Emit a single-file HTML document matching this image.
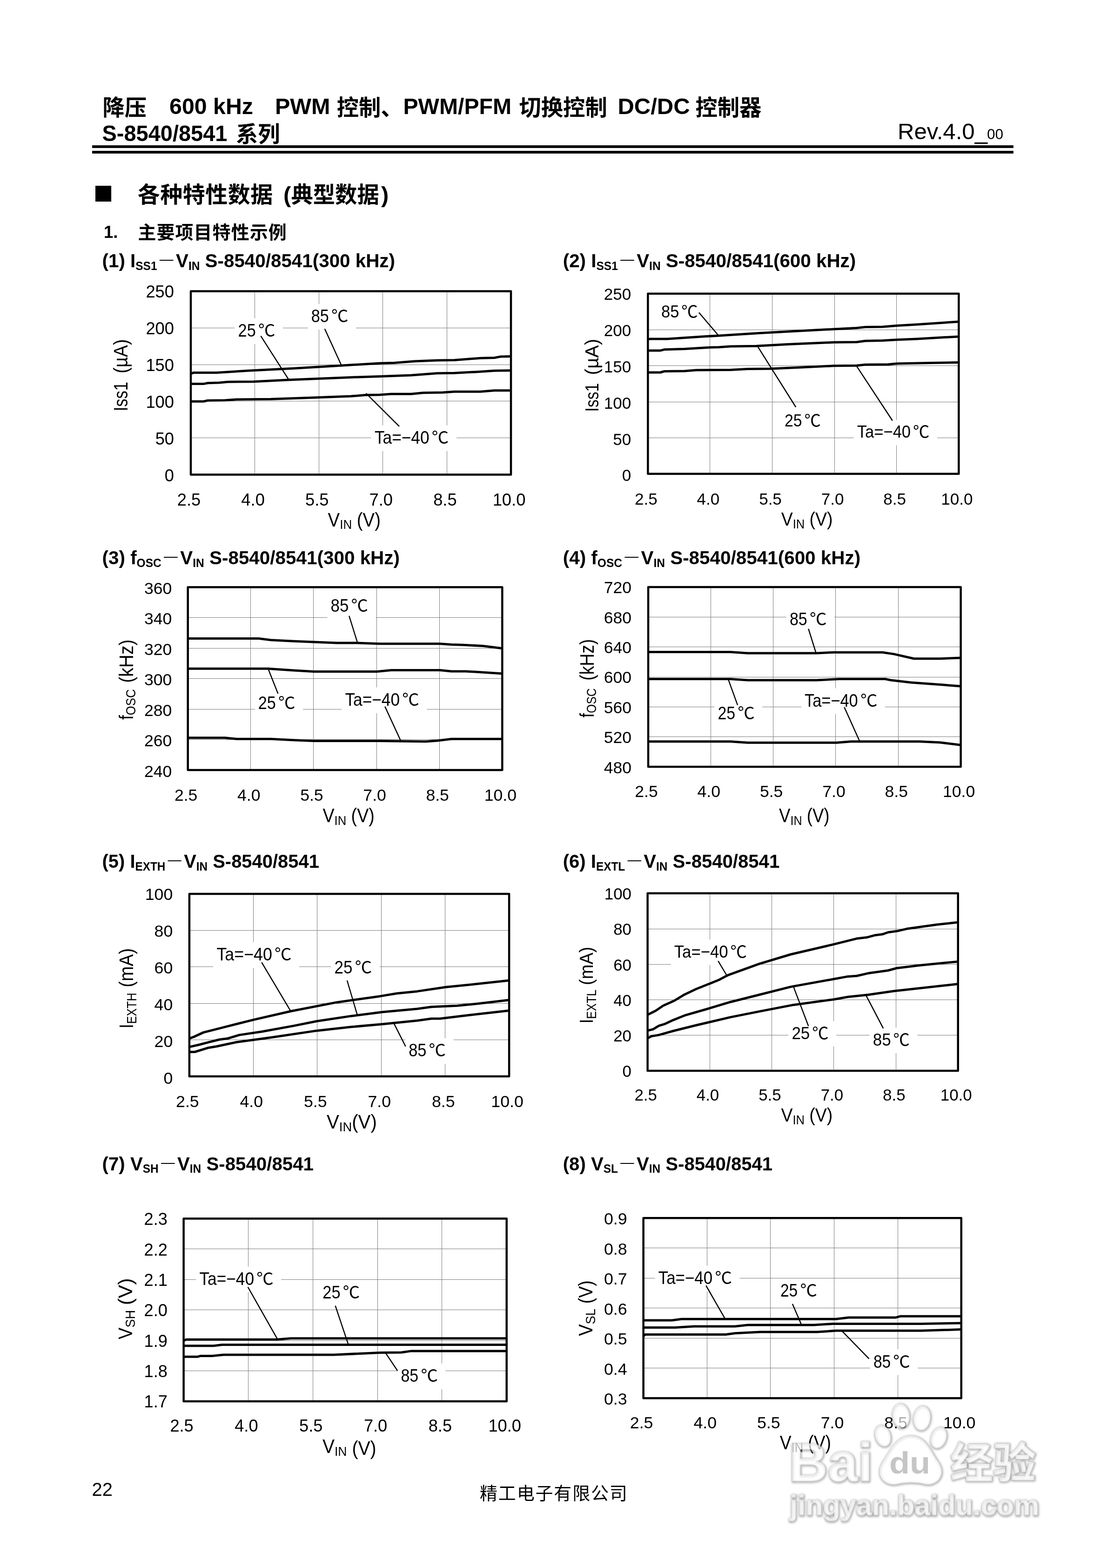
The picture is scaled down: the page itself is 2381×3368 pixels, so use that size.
<!DOCTYPE html>
<html lang="zh"><head><meta charset="utf-8"><title>S-8540/8541</title>
<style>
html,body{margin:0;padding:0;background:#fff}
svg{display:block}
text{font-family:"Liberation Sans", "Noto Sans CJK SC", sans-serif;fill:#000}
.wmg text{fill:none}
.wmw text{fill:#fff}
.wmd{fill:#bbb}
.g line{stroke:#7c7c7c;stroke-width:1;shape-rendering:crispEdges}
.c{font-family:"Liberation Sans","Noto Sans CJK SC",sans-serif;font-weight:400}
.d{font-family:"Liberation Sans","Noto Sans CJK SC",sans-serif;font-weight:200}
.k{font-family:"Liberation Sans","Noto Sans CJK SC",sans-serif;font-weight:700}
.sq{font-family:"Noto Sans CJK SC","Liberation Sans",sans-serif;font-weight:400}
.k3{font-family:"Liberation Sans","Noto Sans CJK SC",sans-serif;font-weight:400}
.k2{font-family:"Liberation Sans","Noto Sans CJK SC",sans-serif;font-weight:500}
</style></head><body>
<svg width="2381" height="3368" viewBox="0 0 2381 3368">
<defs><filter id="wg" x="-5%" y="-10%" width="110%" height="120%"><feGaussianBlur stdDeviation="2"/></filter><clipPath id="cp1"><rect x="410.0" y="625.5" width="688.0" height="394.0"/></clipPath><clipPath id="cp2"><rect x="1392.3" y="630.8" width="668.0" height="387.0"/></clipPath><clipPath id="cp3"><rect x="403.7" y="1261.3" width="675.6" height="392.6"/></clipPath><clipPath id="cp4"><rect x="1393.0" y="1261.0" width="671.6" height="386.0"/></clipPath><clipPath id="cp5"><rect x="406.9" y="1919.9" width="687.2" height="392.2"/></clipPath><clipPath id="cp6"><rect x="1391.6" y="1918.8" width="667.1" height="381.3"/></clipPath><clipPath id="cp7"><rect x="394.6" y="2617.5" width="694.1" height="392.6"/></clipPath><clipPath id="cp8"><rect x="1382.6" y="2616.2" width="683.1" height="387.1"/></clipPath></defs>
<rect width="2381" height="3368" fill="#fff"/>
<text x="220.5" y="247.9" font-size="47.3" font-weight="bold" textLength="94.6" lengthAdjust="spacing" class="k">降压</text>
<text x="364.0" y="245.2" font-size="49.0" font-weight="bold" textLength="180.0" lengthAdjust="spacingAndGlyphs">600 kHz</text>
<text x="591.0" y="245.2" font-size="49.0" font-weight="bold" textLength="118.5" lengthAdjust="spacingAndGlyphs">PWM</text>
<text x="723.7" y="247.9" font-size="47.3" font-weight="bold" textLength="141.9" lengthAdjust="spacing" class="k">控制、</text>
<text x="866.5" y="245.2" font-size="49.0" font-weight="bold" textLength="232.5" lengthAdjust="spacingAndGlyphs">PWM/PFM</text>
<text x="1115.5" y="247.9" font-size="47.3" font-weight="bold" textLength="189.2" lengthAdjust="spacing" class="k">切换控制</text>
<text x="1327.5" y="245.2" font-size="49.0" font-weight="bold" textLength="155.0" lengthAdjust="spacingAndGlyphs">DC/DC</text>
<text x="1494.5" y="247.9" font-size="47.3" font-weight="bold" textLength="141.9" lengthAdjust="spacing" class="k">控制器</text>
<text x="219.5" y="302.9" font-size="49.0" font-weight="bold" textLength="269.0" lengthAdjust="spacingAndGlyphs">S-8540/8541</text>
<text x="507.0" y="305.4" font-size="47.3" font-weight="bold" textLength="94.6" lengthAdjust="spacing" class="k">系列</text>
<text x="1929" y="299" font-size="49" textLength="193" lengthAdjust="spacingAndGlyphs">Rev.4.0_</text>
<text x="2121" y="299" font-size="30.7" textLength="35" lengthAdjust="spacingAndGlyphs">00</text>
<rect x="198" y="312.1" width="1979.8" height="5.8" fill="#000"/>
<rect x="198" y="324" width="1979.8" height="5.8" fill="#000"/>
<text x="200.7" y="432.2" font-size="42.6" class="sq">■</text>
<text x="295.8" y="434.5" font-size="48" font-weight="bold" textLength="290.4" lengthAdjust="spacing" class="k">各种特性数据</text>
<text x="609.0" y="434.5" font-size="49.0" font-weight="bold">(</text>
<text x="625.5" y="434.5" font-size="47.3" font-weight="bold" textLength="189.2" lengthAdjust="spacing" class="k">典型数据</text>
<text x="819.0" y="434.5" font-size="49.0" font-weight="bold">)</text>
<text x="223.0" y="510.9" font-size="36.5" font-weight="bold">1.</text>
<text x="296.5" y="512.5" font-size="39" font-weight="bold" textLength="319.2" lengthAdjust="spacing" class="k">主要项目特性示例</text>
<g class="g">
<line x1="547.5" y1="625.5" x2="547.5" y2="1019.5"/>
<line x1="685.5" y1="625.5" x2="685.5" y2="1019.5"/>
<line x1="822.5" y1="625.5" x2="822.5" y2="1019.5"/>
<line x1="960.5" y1="625.5" x2="960.5" y2="1019.5"/>
<line x1="410.0" y1="704.5" x2="1098.0" y2="704.5"/>
<line x1="410.0" y1="783.5" x2="1098.0" y2="783.5"/>
<line x1="410.0" y1="861.5" x2="1098.0" y2="861.5"/>
<line x1="410.0" y1="940.5" x2="1098.0" y2="940.5"/>
</g>
<rect x="661.5" y="652.9" width="103.5" height="55.2" fill="#fff"/>
<rect x="504.4" y="683.7" width="103.6" height="55.2" fill="#fff"/>
<rect x="797.7" y="913.6" width="183.1" height="55.2" fill="#fff"/>
<g clip-path="url(#cp1)">
<polyline points="401.5,803.0 409.5,803.0 415.7,800.6 464.9,800.6 532.7,796.3 631.3,791.3 723.7,785.8 816.1,780.2 847.0,779.6 890.1,775.9 939.4,774.1 976.3,773.5 1031.8,769.2 1062.6,768.5 1074.9,766.1 1097.7,765.5 1105.7,765.5" fill="none" stroke="#000" stroke-width="5" stroke-linejoin="round"/>
<polyline points="401.5,824.6 409.5,824.6 437.2,824.6 446.5,822.8 471.1,822.1 489.6,820.3 545.0,819.7 619.0,816.0 680.6,813.5 754.5,810.4 816.1,808.6 883.9,806.1 939.4,801.8 976.3,801.2 1025.6,798.7 1062.6,796.3 1097.7,795.7 1105.7,795.7" fill="none" stroke="#000" stroke-width="5" stroke-linejoin="round"/>
<polyline points="401.5,862.2 409.5,862.2 437.2,862.2 446.5,860.3 483.4,859.7 508.1,857.9 582.0,857.3 668.3,854.2 754.5,851.1 785.3,848.6 816.1,848.0 840.8,846.2 883.9,846.2 908.6,843.7 951.7,843.1 976.3,841.2 1031.8,841.2 1062.6,838.8 1097.7,838.8 1105.7,838.8" fill="none" stroke="#000" stroke-width="5" stroke-linejoin="round"/>
</g>
<rect x="410.0" y="625.5" width="688.0" height="394.0" fill="none" stroke="#000" stroke-width="4.5" stroke-linejoin="round"/>
<text x="668.7" y="692.1" font-size="38.2" textLength="38.1" lengthAdjust="spacingAndGlyphs">85</text>
<text x="712.0" y="692.1" font-size="36.5" class="c">℃</text>
<line x1="697.8" y1="706.3" x2="733.0" y2="783.3" stroke="#000" stroke-width="2.4"/>
<text x="511.6" y="722.9" font-size="38.2" textLength="38.2" lengthAdjust="spacingAndGlyphs">25</text>
<text x="555.0" y="722.9" font-size="36.5" class="c">℃</text>
<line x1="560.4" y1="721.7" x2="620.8" y2="816.0" stroke="#000" stroke-width="2.4"/>
<text x="804.9" y="952.8" font-size="38.2" textLength="117.7" lengthAdjust="spacingAndGlyphs">Ta=−40</text>
<text x="927.8" y="952.8" font-size="36.5" class="c">℃</text>
<line x1="786.6" y1="844.9" x2="858.0" y2="915.8" stroke="#000" stroke-width="2.4"/>
<text x="374.0" y="639.4" font-size="36.3" text-anchor="end">250</text>
<text x="374.0" y="718.2" font-size="36.3" text-anchor="end">200</text>
<text x="374.0" y="797.1" font-size="36.3" text-anchor="end">150</text>
<text x="374.0" y="875.9" font-size="36.3" text-anchor="end">100</text>
<text x="374.0" y="954.8" font-size="36.3" text-anchor="end">50</text>
<text x="374.0" y="1033.6" font-size="36.3" text-anchor="end">0</text>
<text x="406.0" y="1086.3" font-size="36.3" text-anchor="middle">2.5</text>
<text x="543.6" y="1086.3" font-size="36.3" text-anchor="middle">4.0</text>
<text x="681.2" y="1086.3" font-size="36.3" text-anchor="middle">5.5</text>
<text x="818.8" y="1086.3" font-size="36.3" text-anchor="middle">7.0</text>
<text x="956.4" y="1086.3" font-size="36.3" text-anchor="middle">8.5</text>
<text x="1094.0" y="1086.3" font-size="36.3" text-anchor="middle">10.0</text>
<text x="704.6" y="1130.5" font-size="41.6" textLength="113.3" lengthAdjust="spacingAndGlyphs">V<tspan font-size="28.3" dy="5.6">IN</tspan><tspan dy="-5.6"> (V)</tspan></text>
<text transform="translate(274.0,883.2) rotate(-90)" font-size="41.6" textLength="63.2" lengthAdjust="spacingAndGlyphs">Iss1</text>
<text transform="translate(274.0,802.0) rotate(-90)" font-size="41.6" textLength="73.6" lengthAdjust="spacingAndGlyphs">(µA)</text>
<text x="219.5" y="574.0" font-size="41.2" font-weight="bold" textLength="629.5" lengthAdjust="spacingAndGlyphs">(1) I<tspan font-size="25" dy="5.7">SS1</tspan><tspan dy="-5.7" font-size="1">​</tspan><tspan class="d">－</tspan>V<tspan font-size="25" dy="5.7">IN</tspan><tspan dy="-5.7" font-size="1">​</tspan> S-8540/8541(300 kHz)</text>
<g class="g">
<line x1="1525.5" y1="630.8" x2="1525.5" y2="1017.8"/>
<line x1="1659.5" y1="630.8" x2="1659.5" y2="1017.8"/>
<line x1="1793.5" y1="630.8" x2="1793.5" y2="1017.8"/>
<line x1="1926.5" y1="630.8" x2="1926.5" y2="1017.8"/>
<line x1="1392.3" y1="708.5" x2="2060.3" y2="708.5"/>
<line x1="1392.3" y1="785.5" x2="2060.3" y2="785.5"/>
<line x1="1392.3" y1="863.5" x2="2060.3" y2="863.5"/>
<line x1="1392.3" y1="940.5" x2="2060.3" y2="940.5"/>
</g>
<rect x="1413.8" y="643.3" width="102.4" height="54.4" fill="#fff"/>
<rect x="1678.8" y="877.4" width="101.7" height="54.4" fill="#fff"/>
<rect x="1834.6" y="902.0" width="179.4" height="54.4" fill="#fff"/>
<g clip-path="url(#cp2)">
<polyline points="1384.2,729.1 1392.2,729.1 1397.2,727.9 1434.1,727.9 1471.1,725.4 1520.4,722.3 1545.0,721.1 1631.3,715.6 1723.7,710.6 1791.5,706.9 1840.8,704.5 1859.3,702.6 1896.2,702.0 1927.0,699.5 1970.2,697.1 2059.5,690.9 2067.5,690.9" fill="none" stroke="#000" stroke-width="5" stroke-linejoin="round"/>
<polyline points="1384.2,753.1 1392.2,753.1 1418.7,753.1 1428.0,750.7 1471.1,749.4 1520.4,746.4 1545.0,745.7 1569.7,743.9 1625.1,743.3 1692.9,739.6 1791.5,735.3 1840.8,734.7 1859.3,732.2 1896.2,731.6 1927.0,729.7 1970.2,727.9 2059.5,722.9 2067.5,722.9" fill="none" stroke="#000" stroke-width="5" stroke-linejoin="round"/>
<polyline points="1384.2,800.0 1392.2,800.0 1418.7,800.0 1428.0,797.5 1471.1,796.9 1495.7,795.0 1569.7,794.4 1606.7,792.6 1655.9,792.0 1723.7,788.9 1791.5,785.8 1840.8,785.2 1859.3,783.3 1908.6,782.7 1927.0,780.9 2001.0,779.6 2059.5,778.4 2067.5,778.4" fill="none" stroke="#000" stroke-width="5" stroke-linejoin="round"/>
</g>
<rect x="1392.3" y="630.8" width="668.0" height="387.0" fill="none" stroke="#000" stroke-width="4.5" stroke-linejoin="round"/>
<text x="1421.0" y="681.7" font-size="37.1" textLength="38.3" lengthAdjust="spacingAndGlyphs">85</text>
<text x="1464.2" y="681.7" font-size="35.4" class="c">℃</text>
<line x1="1501.9" y1="671.2" x2="1543.8" y2="720.5" stroke="#000" stroke-width="2.4"/>
<text x="1686.0" y="915.8" font-size="37.1" textLength="37.6" lengthAdjust="spacingAndGlyphs">25</text>
<text x="1728.5" y="915.8" font-size="35.4" class="c">℃</text>
<line x1="1626.4" y1="741.4" x2="1710.2" y2="874.5" stroke="#000" stroke-width="2.4"/>
<text x="1841.8" y="940.4" font-size="37.1" textLength="115.3" lengthAdjust="spacingAndGlyphs">Ta=−40</text>
<text x="1962.0" y="940.4" font-size="35.4" class="c">℃</text>
<line x1="1840.8" y1="786.4" x2="1917.8" y2="903.5" stroke="#000" stroke-width="2.4"/>
<text x="1356.2" y="644.3" font-size="35" text-anchor="end">250</text>
<text x="1356.2" y="722.1" font-size="35" text-anchor="end">200</text>
<text x="1356.2" y="799.9" font-size="35" text-anchor="end">150</text>
<text x="1356.2" y="877.7" font-size="35" text-anchor="end">100</text>
<text x="1356.2" y="955.5" font-size="35" text-anchor="end">50</text>
<text x="1356.2" y="1033.3" font-size="35" text-anchor="end">0</text>
<text x="1388.3" y="1083.7" font-size="35" text-anchor="middle">2.5</text>
<text x="1521.9" y="1083.7" font-size="35" text-anchor="middle">4.0</text>
<text x="1655.5" y="1083.7" font-size="35" text-anchor="middle">5.5</text>
<text x="1789.1" y="1083.7" font-size="35" text-anchor="middle">7.0</text>
<text x="1922.7" y="1083.7" font-size="35" text-anchor="middle">8.5</text>
<text x="2056.3" y="1083.7" font-size="35" text-anchor="middle">10.0</text>
<text x="1678.7" y="1129.0" font-size="40.4" textLength="110.8" lengthAdjust="spacingAndGlyphs">V<tspan font-size="27.5" dy="5.6">IN</tspan><tspan dy="-5.6"> (V)</tspan></text>
<text transform="translate(1286.1,884.4) rotate(-90)" font-size="40.4" textLength="61.5" lengthAdjust="spacingAndGlyphs">Iss1</text>
<text transform="translate(1286.1,805.4) rotate(-90)" font-size="40.4" textLength="77.6" lengthAdjust="spacingAndGlyphs">(µA)</text>
<text x="1209.7" y="574.0" font-size="41.2" font-weight="bold" textLength="629.5" lengthAdjust="spacingAndGlyphs">(2) I<tspan font-size="25" dy="5.7">SS1</tspan><tspan dy="-5.7" font-size="1">​</tspan><tspan class="d">－</tspan>V<tspan font-size="25" dy="5.7">IN</tspan><tspan dy="-5.7" font-size="1">​</tspan> S-8540/8541(600 kHz)</text>
<g class="g">
<line x1="538.5" y1="1261.3" x2="538.5" y2="1653.9"/>
<line x1="673.5" y1="1261.3" x2="673.5" y2="1653.9"/>
<line x1="809.5" y1="1261.3" x2="809.5" y2="1653.9"/>
<line x1="944.5" y1="1261.3" x2="944.5" y2="1653.9"/>
<line x1="403.7" y1="1326.5" x2="1079.3" y2="1326.5"/>
<line x1="403.7" y1="1392.5" x2="1079.3" y2="1392.5"/>
<line x1="403.7" y1="1457.5" x2="1079.3" y2="1457.5"/>
<line x1="403.7" y1="1523.5" x2="1079.3" y2="1523.5"/>
<line x1="403.7" y1="1588.5" x2="1079.3" y2="1588.5"/>
</g>
<rect x="703.4" y="1275.1" width="104.2" height="55.2" fill="#fff"/>
<rect x="547.5" y="1484.0" width="103.5" height="55.2" fill="#fff"/>
<rect x="734.2" y="1476.6" width="183.1" height="55.2" fill="#fff"/>
<g clip-path="url(#cp3)">
<polyline points="395.3,1371.6 403.3,1371.6 556.1,1371.6 582.0,1374.7 631.3,1377.2 723.7,1380.9 766.9,1380.9 816.1,1382.7 945.5,1382.7 970.2,1384.6 994.8,1385.2 1038.0,1387.6 1078.0,1392.6 1086.0,1392.6" fill="none" stroke="#000" stroke-width="5" stroke-linejoin="round"/>
<polyline points="395.3,1436.3 403.3,1436.3 575.8,1436.3 631.3,1440.0 674.4,1442.5 810.0,1442.5 840.8,1439.4 945.5,1439.4 970.2,1441.9 1001.0,1441.9 1078.0,1446.8 1086.0,1446.8" fill="none" stroke="#000" stroke-width="5" stroke-linejoin="round"/>
<polyline points="395.3,1584.8 403.3,1584.8 483.4,1584.8 508.1,1587.3 582.0,1587.3 631.3,1589.7 674.4,1591.6 816.1,1591.6 914.7,1592.8 939.4,1591.0 970.2,1587.3 1078.0,1587.3 1086.0,1587.3" fill="none" stroke="#000" stroke-width="5" stroke-linejoin="round"/>
</g>
<rect x="403.7" y="1261.3" width="675.6" height="392.6" fill="none" stroke="#000" stroke-width="4.5" stroke-linejoin="round"/>
<text x="710.6" y="1314.3" font-size="38.2" textLength="38.8" lengthAdjust="spacingAndGlyphs">85</text>
<text x="754.6" y="1314.3" font-size="36.5" class="c">℃</text>
<line x1="750.2" y1="1322.9" x2="768.1" y2="1380.2" stroke="#000" stroke-width="2.4"/>
<text x="554.7" y="1523.2" font-size="38.2" textLength="38.1" lengthAdjust="spacingAndGlyphs">25</text>
<text x="598.0" y="1523.2" font-size="36.5" class="c">℃</text>
<line x1="577.1" y1="1438.8" x2="597.4" y2="1489.9" stroke="#000" stroke-width="2.4"/>
<text x="741.4" y="1515.8" font-size="38.2" textLength="117.7" lengthAdjust="spacingAndGlyphs">Ta=−40</text>
<text x="864.3" y="1515.8" font-size="36.5" class="c">℃</text>
<line x1="827.2" y1="1517.6" x2="860.5" y2="1589.7" stroke="#000" stroke-width="2.4"/>
<text x="369.3" y="1275.5" font-size="35.6" text-anchor="end">360</text>
<text x="369.3" y="1341.0" font-size="35.6" text-anchor="end">340</text>
<text x="369.3" y="1406.5" font-size="35.6" text-anchor="end">320</text>
<text x="369.3" y="1472.0" font-size="35.6" text-anchor="end">300</text>
<text x="369.3" y="1537.5" font-size="35.6" text-anchor="end">280</text>
<text x="369.3" y="1603.0" font-size="35.6" text-anchor="end">260</text>
<text x="369.3" y="1668.5" font-size="35.6" text-anchor="end">240</text>
<text x="399.7" y="1719.8" font-size="35.6" text-anchor="middle">2.5</text>
<text x="534.8" y="1719.8" font-size="35.6" text-anchor="middle">4.0</text>
<text x="669.9" y="1719.8" font-size="35.6" text-anchor="middle">5.5</text>
<text x="805.1" y="1719.8" font-size="35.6" text-anchor="middle">7.0</text>
<text x="940.2" y="1719.8" font-size="35.6" text-anchor="middle">8.5</text>
<text x="1075.3" y="1719.8" font-size="35.6" text-anchor="middle">10.0</text>
<text x="693.4" y="1765.9" font-size="41.6" textLength="111.4" lengthAdjust="spacingAndGlyphs">V<tspan font-size="28.3" dy="5.6">IN</tspan><tspan dy="-5.6"> (V)</tspan></text>
<text transform="translate(286.1,1546.1) rotate(-90)" font-size="41.6" textLength="65.8" lengthAdjust="spacingAndGlyphs">f<tspan font-size="30" dy="5.3">OSC</tspan></text>
<text transform="translate(286.1,1466.7) rotate(-90)" font-size="41.6" textLength="93.2" lengthAdjust="spacingAndGlyphs">(kHz)</text>
<text x="219.5" y="1211.9" font-size="41.2" font-weight="bold" textLength="639.5" lengthAdjust="spacingAndGlyphs">(3) f<tspan font-size="25" dy="5.7">OSC</tspan><tspan dy="-5.7" font-size="1">​</tspan><tspan class="d">－</tspan>V<tspan font-size="25" dy="5.7">IN</tspan><tspan dy="-5.7" font-size="1">​</tspan> S-8540/8541(300 kHz)</text>
<g class="g">
<line x1="1527.5" y1="1261.0" x2="1527.5" y2="1647.0"/>
<line x1="1661.5" y1="1261.0" x2="1661.5" y2="1647.0"/>
<line x1="1795.5" y1="1261.0" x2="1795.5" y2="1647.0"/>
<line x1="1930.5" y1="1261.0" x2="1930.5" y2="1647.0"/>
<line x1="1393.0" y1="1325.5" x2="2064.6" y2="1325.5"/>
<line x1="1393.0" y1="1389.5" x2="2064.6" y2="1389.5"/>
<line x1="1393.0" y1="1454.5" x2="2064.6" y2="1454.5"/>
<line x1="1393.0" y1="1518.5" x2="2064.6" y2="1518.5"/>
<line x1="1393.0" y1="1582.5" x2="2064.6" y2="1582.5"/>
</g>
<rect x="1689.8" y="1304.1" width="103.1" height="55.2" fill="#fff"/>
<rect x="1535.2" y="1505.6" width="103.0" height="55.2" fill="#fff"/>
<rect x="1721.9" y="1478.4" width="180.0" height="55.2" fill="#fff"/>
<g clip-path="url(#cp4)">
<polyline points="1384.9,1400.6 1392.9,1400.6 1569.7,1400.6 1606.7,1403.0 1754.5,1403.0 1791.5,1401.2 1896.2,1401.2 1920.9,1404.9 1964.0,1414.8 2019.5,1414.8 2064.4,1412.9 2072.4,1412.9" fill="none" stroke="#000" stroke-width="5" stroke-linejoin="round"/>
<polyline points="1384.9,1458.5 1392.9,1458.5 1569.7,1458.5 1606.7,1461.0 1754.5,1461.0 1803.8,1458.5 1902.4,1458.5 1914.7,1461.0 1957.9,1465.9 2064.4,1473.9 2072.4,1473.9" fill="none" stroke="#000" stroke-width="5" stroke-linejoin="round"/>
<polyline points="1384.9,1592.8 1392.9,1592.8 1569.7,1592.8 1606.7,1595.3 1797.7,1595.3 1828.5,1592.8 1976.3,1592.8 2019.5,1594.7 2064.4,1600.2 2072.4,1600.2" fill="none" stroke="#000" stroke-width="5" stroke-linejoin="round"/>
</g>
<rect x="1393.0" y="1261.0" width="671.6" height="386.0" fill="none" stroke="#000" stroke-width="4.5" stroke-linejoin="round"/>
<text x="1697.0" y="1343.3" font-size="38.2" textLength="37.7" lengthAdjust="spacingAndGlyphs">85</text>
<text x="1739.9" y="1343.3" font-size="36.5" class="c">℃</text>
<line x1="1737.3" y1="1350.7" x2="1753.3" y2="1401.8" stroke="#000" stroke-width="2.4"/>
<text x="1542.4" y="1544.8" font-size="38.2" textLength="37.6" lengthAdjust="spacingAndGlyphs">25</text>
<text x="1585.2" y="1544.8" font-size="36.5" class="c">℃</text>
<line x1="1565.4" y1="1460.3" x2="1585.1" y2="1514.6" stroke="#000" stroke-width="2.4"/>
<text x="1729.1" y="1517.6" font-size="38.2" textLength="114.6" lengthAdjust="spacingAndGlyphs">Ta=−40</text>
<text x="1848.9" y="1517.6" font-size="36.5" class="c">℃</text>
<line x1="1814.3" y1="1518.9" x2="1847.0" y2="1591.6" stroke="#000" stroke-width="2.4"/>
<text x="1356.9" y="1274.1" font-size="35.5" text-anchor="end">720</text>
<text x="1356.9" y="1338.5" font-size="35.5" text-anchor="end">680</text>
<text x="1356.9" y="1403.0" font-size="35.5" text-anchor="end">640</text>
<text x="1356.9" y="1467.4" font-size="35.5" text-anchor="end">600</text>
<text x="1356.9" y="1531.9" font-size="35.5" text-anchor="end">560</text>
<text x="1356.9" y="1596.3" font-size="35.5" text-anchor="end">520</text>
<text x="1356.9" y="1660.8" font-size="35.5" text-anchor="end">480</text>
<text x="1389.0" y="1711.9" font-size="35.5" text-anchor="middle">2.5</text>
<text x="1523.3" y="1711.9" font-size="35.5" text-anchor="middle">4.0</text>
<text x="1657.6" y="1711.9" font-size="35.5" text-anchor="middle">5.5</text>
<text x="1792.0" y="1711.9" font-size="35.5" text-anchor="middle">7.0</text>
<text x="1926.3" y="1711.9" font-size="35.5" text-anchor="middle">8.5</text>
<text x="2060.6" y="1711.9" font-size="35.5" text-anchor="middle">10.0</text>
<text x="1674.1" y="1766.1" font-size="41.6" textLength="108.5" lengthAdjust="spacingAndGlyphs">V<tspan font-size="28.3" dy="5.6">IN</tspan><tspan dy="-5.6"> (V)</tspan></text>
<text transform="translate(1275.5,1541.2) rotate(-90)" font-size="41.6" textLength="62.8" lengthAdjust="spacingAndGlyphs">f<tspan font-size="30" dy="5.3">OSC</tspan></text>
<text transform="translate(1275.5,1461.8) rotate(-90)" font-size="41.6" textLength="89.3" lengthAdjust="spacingAndGlyphs">(kHz)</text>
<text x="1209.7" y="1211.9" font-size="41.2" font-weight="bold" textLength="639.5" lengthAdjust="spacingAndGlyphs">(4) f<tspan font-size="25" dy="5.7">OSC</tspan><tspan dy="-5.7" font-size="1">​</tspan><tspan class="d">－</tspan>V<tspan font-size="25" dy="5.7">IN</tspan><tspan dy="-5.7" font-size="1">​</tspan> S-8540/8541(600 kHz)</text>
<g class="g">
<line x1="544.5" y1="1919.9" x2="544.5" y2="2312.1"/>
<line x1="681.5" y1="1919.9" x2="681.5" y2="2312.1"/>
<line x1="819.5" y1="1919.9" x2="819.5" y2="2312.1"/>
<line x1="956.5" y1="1919.9" x2="956.5" y2="2312.1"/>
<line x1="406.9" y1="1998.5" x2="1094.1" y2="1998.5"/>
<line x1="406.9" y1="2076.5" x2="1094.1" y2="2076.5"/>
<line x1="406.9" y1="2155.5" x2="1094.1" y2="2155.5"/>
<line x1="406.9" y1="2233.5" x2="1094.1" y2="2233.5"/>
</g>
<rect x="458.2" y="2023.7" width="184.9" height="55.2" fill="#fff"/>
<rect x="711.4" y="2051.4" width="104.3" height="55.2" fill="#fff"/>
<rect x="871.0" y="2230.1" width="103.6" height="55.2" fill="#fff"/>
<g clip-path="url(#cp5)">
<polyline points="397.8,2231.1 405.8,2231.1 415.7,2227.4 437.2,2217.6 483.4,2205.8 545.0,2190.4 625.1,2172.0 723.7,2152.9 816.1,2139.9 853.1,2133.8 896.2,2129.4 957.9,2120.2 1019.5,2114.0 1093.4,2106.0 1101.4,2106.0" fill="none" stroke="#000" stroke-width="5" stroke-linejoin="round"/>
<polyline points="397.8,2249.0 405.8,2249.0 428.0,2244.0 446.5,2239.1 471.1,2233.0 489.6,2230.5 514.2,2223.1 563.5,2215.7 631.3,2203.4 680.6,2193.5 754.5,2182.4 822.3,2173.8 896.2,2167.0 927.0,2162.7 982.5,2160.3 1031.8,2155.3 1093.4,2147.9 1101.4,2147.9" fill="none" stroke="#000" stroke-width="5" stroke-linejoin="round"/>
<polyline points="397.8,2259.5 405.8,2259.5 418.7,2259.5 446.5,2250.8 464.9,2247.7 508.1,2238.5 582.0,2228.6 680.6,2213.9 754.5,2205.8 822.3,2199.7 896.2,2192.3 927.0,2188.0 945.5,2188.0 1001.0,2181.2 1093.4,2170.7 1101.4,2170.7" fill="none" stroke="#000" stroke-width="5" stroke-linejoin="round"/>
</g>
<rect x="406.9" y="1919.9" width="687.2" height="392.2" fill="none" stroke="#000" stroke-width="4.5" stroke-linejoin="round"/>
<text x="465.4" y="2062.9" font-size="38.2" textLength="119.5" lengthAdjust="spacingAndGlyphs">Ta=−40</text>
<text x="590.1" y="2062.9" font-size="36.5" class="c">℃</text>
<line x1="562.3" y1="2067.2" x2="623.9" y2="2170.7" stroke="#000" stroke-width="2.4"/>
<text x="718.6" y="2090.6" font-size="38.2" textLength="38.9" lengthAdjust="spacingAndGlyphs">25</text>
<text x="762.7" y="2090.6" font-size="36.5" class="c">℃</text>
<line x1="745.9" y1="2106.0" x2="768.1" y2="2181.2" stroke="#000" stroke-width="2.4"/>
<text x="878.2" y="2269.3" font-size="38.2" textLength="38.2" lengthAdjust="spacingAndGlyphs">85</text>
<text x="921.6" y="2269.3" font-size="36.5" class="c">℃</text>
<line x1="845.1" y1="2195.4" x2="871.6" y2="2247.7" stroke="#000" stroke-width="2.4"/>
<text x="371.3" y="1932.7" font-size="35.7" text-anchor="end">100</text>
<text x="371.3" y="2011.7" font-size="35.7" text-anchor="end">80</text>
<text x="371.3" y="2090.6" font-size="35.7" text-anchor="end">60</text>
<text x="371.3" y="2169.6" font-size="35.7" text-anchor="end">40</text>
<text x="371.3" y="2248.5" font-size="35.7" text-anchor="end">20</text>
<text x="371.3" y="2327.5" font-size="35.7" text-anchor="end">0</text>
<text x="402.9" y="2378.0" font-size="35.7" text-anchor="middle">2.5</text>
<text x="540.3" y="2378.0" font-size="35.7" text-anchor="middle">4.0</text>
<text x="677.8" y="2378.0" font-size="35.7" text-anchor="middle">5.5</text>
<text x="815.2" y="2378.0" font-size="35.7" text-anchor="middle">7.0</text>
<text x="952.7" y="2378.0" font-size="35.7" text-anchor="middle">8.5</text>
<text x="1090.1" y="2378.0" font-size="35.7" text-anchor="middle">10.0</text>
<text x="701.9" y="2424.4" font-size="41.6" textLength="108.0" lengthAdjust="spacingAndGlyphs">V<tspan font-size="28.3" dy="5.6">IN</tspan><tspan dy="-5.6">(V)</tspan></text>
<text transform="translate(286.1,2209.0) rotate(-90)" font-size="41.6" textLength="76.5" lengthAdjust="spacingAndGlyphs">I<tspan font-size="30" dy="6.8">EXTH</tspan></text>
<text transform="translate(286.1,2120.8) rotate(-90)" font-size="41.6" textLength="84.3" lengthAdjust="spacingAndGlyphs">(mA)</text>
<text x="219.5" y="1864.4" font-size="41.2" font-weight="bold" textLength="466.5" lengthAdjust="spacingAndGlyphs">(5) I<tspan font-size="25" dy="5.7">EXTH</tspan><tspan dy="-5.7" font-size="1">​</tspan><tspan class="d">－</tspan>V<tspan font-size="25" dy="5.7">IN</tspan><tspan dy="-5.7" font-size="1">​</tspan> S-8540/8541</text>
<g class="g">
<line x1="1525.5" y1="1918.8" x2="1525.5" y2="2300.1"/>
<line x1="1658.5" y1="1918.8" x2="1658.5" y2="2300.1"/>
<line x1="1791.5" y1="1918.8" x2="1791.5" y2="2300.1"/>
<line x1="1925.5" y1="1918.8" x2="1925.5" y2="2300.1"/>
<line x1="1391.6" y1="1995.5" x2="2058.7" y2="1995.5"/>
<line x1="1391.6" y1="2071.5" x2="2058.7" y2="2071.5"/>
<line x1="1391.6" y1="2147.5" x2="2058.7" y2="2147.5"/>
<line x1="1391.6" y1="2223.5" x2="2058.7" y2="2223.5"/>
</g>
<rect x="1441.5" y="2018.3" width="180.1" height="54.4" fill="#fff"/>
<rect x="1694.2" y="2193.3" width="103.0" height="54.4" fill="#fff"/>
<rect x="1868.5" y="2207.5" width="103.0" height="54.4" fill="#fff"/>
<g clip-path="url(#cp6)">
<polyline points="1383.0,2180.0 1391.0,2180.0 1409.5,2170.7 1424.9,2160.3 1449.5,2149.2 1471.1,2136.2 1495.7,2124.5 1545.0,2104.8 1563.5,2094.9 1631.3,2070.3 1699.1,2050.0 1791.5,2028.4 1840.8,2016.1 1862.4,2013.6 1880.8,2008.7 1896.2,2006.8 1908.6,2002.5 1927.0,2000.1 1948.6,1995.1 2013.3,1985.9 2059.5,1981.0 2067.5,1981.0" fill="none" stroke="#000" stroke-width="5" stroke-linejoin="round"/>
<polyline points="1383.0,2213.9 1391.0,2213.9 1403.3,2210.8 1415.7,2203.4 1428.0,2199.7 1446.5,2191.1 1471.1,2181.2 1520.4,2167.0 1569.7,2152.2 1631.3,2136.8 1699.1,2119.6 1791.5,2103.0 1822.3,2097.4 1840.8,2096.2 1865.4,2090.6 1908.6,2084.5 1927.0,2079.5 1976.3,2073.4 2059.5,2065.4 2067.5,2065.4" fill="none" stroke="#000" stroke-width="5" stroke-linejoin="round"/>
<polyline points="1383.0,2230.5 1391.0,2230.5 1400.2,2225.6 1415.7,2223.1 1446.5,2214.5 1495.7,2202.2 1569.7,2184.9 1631.3,2172.6 1705.2,2158.4 1791.5,2146.7 1822.3,2141.2 1865.4,2136.8 1920.9,2128.8 2059.5,2113.4 2067.5,2113.4" fill="none" stroke="#000" stroke-width="5" stroke-linejoin="round"/>
</g>
<rect x="1391.6" y="1918.8" width="667.1" height="381.3" fill="none" stroke="#000" stroke-width="4.5" stroke-linejoin="round"/>
<text x="1448.7" y="2056.7" font-size="37.1" textLength="116.0" lengthAdjust="spacingAndGlyphs">Ta=−40</text>
<text x="1569.6" y="2056.7" font-size="35.4" class="c">℃</text>
<line x1="1543.2" y1="2064.1" x2="1563.5" y2="2098.0" stroke="#000" stroke-width="2.4"/>
<text x="1701.4" y="2231.7" font-size="37.1" textLength="38.9" lengthAdjust="spacingAndGlyphs">25</text>
<text x="1745.2" y="2231.7" font-size="35.4" class="c">℃</text>
<line x1="1705.2" y1="2119.6" x2="1737.3" y2="2204.0" stroke="#000" stroke-width="2.4"/>
<text x="1875.7" y="2245.9" font-size="37.1" textLength="38.9" lengthAdjust="spacingAndGlyphs">85</text>
<text x="1919.5" y="2245.9" font-size="35.4" class="c">℃</text>
<line x1="1861.1" y1="2138.1" x2="1898.1" y2="2208.9" stroke="#000" stroke-width="2.4"/>
<text x="1356.9" y="1932.1" font-size="34.8" text-anchor="end">100</text>
<text x="1356.9" y="2008.4" font-size="34.8" text-anchor="end">80</text>
<text x="1356.9" y="2084.6" font-size="34.8" text-anchor="end">60</text>
<text x="1356.9" y="2160.9" font-size="34.8" text-anchor="end">40</text>
<text x="1356.9" y="2237.1" font-size="34.8" text-anchor="end">20</text>
<text x="1356.9" y="2313.4" font-size="34.8" text-anchor="end">0</text>
<text x="1387.6" y="2363.5" font-size="34.8" text-anchor="middle">2.5</text>
<text x="1521.0" y="2363.5" font-size="34.8" text-anchor="middle">4.0</text>
<text x="1654.4" y="2363.5" font-size="34.8" text-anchor="middle">5.5</text>
<text x="1787.9" y="2363.5" font-size="34.8" text-anchor="middle">7.0</text>
<text x="1921.3" y="2363.5" font-size="34.8" text-anchor="middle">8.5</text>
<text x="2054.7" y="2363.5" font-size="34.8" text-anchor="middle">10.0</text>
<text x="1678.4" y="2409.3" font-size="40.4" textLength="110.9" lengthAdjust="spacingAndGlyphs">V<tspan font-size="27.5" dy="5.6">IN</tspan><tspan dy="-5.6"> (V)</tspan></text>
<text transform="translate(1274.1,2198.3) rotate(-90)" font-size="40.4" textLength="72.7" lengthAdjust="spacingAndGlyphs">I<tspan font-size="30" dy="7.3">EXTL</tspan></text>
<text transform="translate(1274.1,2115.9) rotate(-90)" font-size="40.4" textLength="82.4" lengthAdjust="spacingAndGlyphs">(mA)</text>
<text x="1209.7" y="1864.4" font-size="41.2" font-weight="bold" textLength="465.5" lengthAdjust="spacingAndGlyphs">(6) I<tspan font-size="25" dy="5.7">EXTL</tspan><tspan dy="-5.7" font-size="1">​</tspan><tspan class="d">－</tspan>V<tspan font-size="25" dy="5.7">IN</tspan><tspan dy="-5.7" font-size="1">​</tspan> S-8540/8541</text>
<g class="g">
<line x1="533.5" y1="2617.5" x2="533.5" y2="3010.1"/>
<line x1="672.5" y1="2617.5" x2="672.5" y2="3010.1"/>
<line x1="811.5" y1="2617.5" x2="811.5" y2="3010.1"/>
<line x1="949.5" y1="2617.5" x2="949.5" y2="3010.1"/>
<line x1="394.6" y1="2682.5" x2="1088.7" y2="2682.5"/>
<line x1="394.6" y1="2748.5" x2="1088.7" y2="2748.5"/>
<line x1="394.6" y1="2813.5" x2="1088.7" y2="2813.5"/>
<line x1="394.6" y1="2879.5" x2="1088.7" y2="2879.5"/>
<line x1="394.6" y1="2944.5" x2="1088.7" y2="2944.5"/>
</g>
<rect x="421.2" y="2720.4" width="183.1" height="55.2" fill="#fff"/>
<rect x="686.1" y="2749.3" width="103.7" height="55.2" fill="#fff"/>
<rect x="854.3" y="2928.6" width="103.1" height="55.2" fill="#fff"/>
<g clip-path="url(#cp7)">
<polyline points="386.7,2879.7 394.7,2879.7 400.2,2877.3 594.3,2877.3 625.1,2874.8 1089.1,2874.8 1097.1,2874.8" fill="none" stroke="#000" stroke-width="5" stroke-linejoin="round"/>
<polyline points="386.7,2890.8 394.7,2890.8 458.8,2890.8 477.3,2888.4 1089.1,2888.4 1097.1,2888.4" fill="none" stroke="#000" stroke-width="5" stroke-linejoin="round"/>
<polyline points="386.7,2914.2 394.7,2914.2 424.9,2914.2 431.1,2912.4 455.7,2912.4 480.3,2909.9 717.6,2909.9 816.1,2905.6 862.4,2905.0 883.9,2901.9 1089.1,2901.9 1097.1,2901.9" fill="none" stroke="#000" stroke-width="5" stroke-linejoin="round"/>
</g>
<rect x="394.6" y="2617.5" width="694.1" height="392.6" fill="none" stroke="#000" stroke-width="4.5" stroke-linejoin="round"/>
<text x="428.4" y="2759.6" font-size="38.2" textLength="117.7" lengthAdjust="spacingAndGlyphs">Ta=−40</text>
<text x="551.3" y="2759.6" font-size="36.5" class="c">℃</text>
<line x1="532.7" y1="2764.5" x2="595.6" y2="2875.4" stroke="#000" stroke-width="2.4"/>
<text x="693.3" y="2788.5" font-size="38.2" textLength="38.3" lengthAdjust="spacingAndGlyphs">25</text>
<text x="736.8" y="2788.5" font-size="36.5" class="c">℃</text>
<line x1="720.6" y1="2804.6" x2="748.4" y2="2887.7" stroke="#000" stroke-width="2.4"/>
<text x="861.5" y="2967.8" font-size="38.2" textLength="37.7" lengthAdjust="spacingAndGlyphs">85</text>
<text x="904.4" y="2967.8" font-size="36.5" class="c">℃</text>
<line x1="826.6" y1="2903.1" x2="854.3" y2="2944.4" stroke="#000" stroke-width="2.4"/>
<text x="359.9" y="2631.2" font-size="36.2" text-anchor="end">2.3</text>
<text x="359.9" y="2696.5" font-size="36.2" text-anchor="end">2.2</text>
<text x="359.9" y="2761.9" font-size="36.2" text-anchor="end">2.1</text>
<text x="359.9" y="2827.2" font-size="36.2" text-anchor="end">2.0</text>
<text x="359.9" y="2892.5" font-size="36.2" text-anchor="end">1.9</text>
<text x="359.9" y="2957.8" font-size="36.2" text-anchor="end">1.8</text>
<text x="359.9" y="3023.2" font-size="36.2" text-anchor="end">1.7</text>
<text x="390.6" y="3075.2" font-size="36.2" text-anchor="middle">2.5</text>
<text x="529.4" y="3075.2" font-size="36.2" text-anchor="middle">4.0</text>
<text x="668.2" y="3075.2" font-size="36.2" text-anchor="middle">5.5</text>
<text x="807.1" y="3075.2" font-size="36.2" text-anchor="middle">7.0</text>
<text x="945.9" y="3075.2" font-size="36.2" text-anchor="middle">8.5</text>
<text x="1084.7" y="3075.2" font-size="36.2" text-anchor="middle">10.0</text>
<text x="692.9" y="3121.3" font-size="41.6" textLength="115.6" lengthAdjust="spacingAndGlyphs">V<tspan font-size="28.3" dy="5.6">IN</tspan><tspan dy="-1.9"> (V)</tspan></text>
<text transform="translate(283.9,2876.7) rotate(-90)" font-size="41.6" textLength="62.8" lengthAdjust="spacingAndGlyphs">V<tspan font-size="30" dy="5.9">SH</tspan></text>
<text transform="translate(283.9,2803.2) rotate(-90)" font-size="41.6" textLength="57.9" lengthAdjust="spacingAndGlyphs">(V)</text>
<text x="219.5" y="2513.6" font-size="41.2" font-weight="bold" textLength="454.5" lengthAdjust="spacingAndGlyphs">(7) V<tspan font-size="25" dy="5.7">SH</tspan><tspan dy="-5.7" font-size="1">​</tspan><tspan class="d">－</tspan>V<tspan font-size="25" dy="5.7">IN</tspan><tspan dy="-5.7" font-size="1">​</tspan> S-8540/8541</text>
<g class="g">
<line x1="1519.5" y1="2616.2" x2="1519.5" y2="3003.3"/>
<line x1="1655.5" y1="2616.2" x2="1655.5" y2="3003.3"/>
<line x1="1792.5" y1="2616.2" x2="1792.5" y2="3003.3"/>
<line x1="1929.5" y1="2616.2" x2="1929.5" y2="3003.3"/>
<line x1="1382.6" y1="2680.5" x2="2065.7" y2="2680.5"/>
<line x1="1382.6" y1="2745.5" x2="2065.7" y2="2745.5"/>
<line x1="1382.6" y1="2809.5" x2="2065.7" y2="2809.5"/>
<line x1="1382.6" y1="2874.5" x2="2065.7" y2="2874.5"/>
<line x1="1382.6" y1="2938.5" x2="2065.7" y2="2938.5"/>
</g>
<rect x="1407.5" y="2718.8" width="181.9" height="55.2" fill="#fff"/>
<rect x="1669.8" y="2746.0" width="102.6" height="55.2" fill="#fff"/>
<rect x="1869.7" y="2898.4" width="102.6" height="55.2" fill="#fff"/>
<g clip-path="url(#cp8)">
<polyline points="1373.6,2836.0 1381.6,2836.0 1444.0,2836.0 1464.3,2833.3 1796.4,2833.3 1823.5,2829.9 1925.2,2829.9 1935.3,2827.2 2065.5,2827.2 2073.5,2827.2" fill="none" stroke="#000" stroke-width="5" stroke-linejoin="round"/>
<polyline points="1373.6,2851.6 1381.6,2851.6 1450.8,2851.6 1491.4,2848.9 1579.5,2848.9 1606.6,2846.1 1749.0,2846.1 1789.6,2843.4 1979.4,2843.4 2065.5,2842.1 2073.5,2842.1" fill="none" stroke="#000" stroke-width="5" stroke-linejoin="round"/>
<polyline points="1373.6,2871.2 1381.6,2871.2 1386.4,2866.5 1559.2,2866.5 1579.5,2863.8 1633.8,2861.1 1755.7,2861.1 1796.4,2858.3 1979.4,2858.3 2065.5,2855.6 2073.5,2855.6" fill="none" stroke="#000" stroke-width="5" stroke-linejoin="round"/>
</g>
<rect x="1382.6" y="2616.2" width="683.1" height="387.1" fill="none" stroke="#000" stroke-width="4.5" stroke-linejoin="round"/>
<text x="1414.7" y="2758.0" font-size="38.2" textLength="116.5" lengthAdjust="spacingAndGlyphs">Ta=−40</text>
<text x="1536.4" y="2758.0" font-size="36.5" class="c">℃</text>
<line x1="1517.2" y1="2761.4" x2="1557.2" y2="2831.2" stroke="#000" stroke-width="2.4"/>
<text x="1677.0" y="2785.2" font-size="38.2" textLength="37.2" lengthAdjust="spacingAndGlyphs">25</text>
<text x="1719.4" y="2785.2" font-size="36.5" class="c">℃</text>
<line x1="1702.9" y1="2800.7" x2="1721.9" y2="2844.8" stroke="#000" stroke-width="2.4"/>
<text x="1876.9" y="2937.6" font-size="38.2" textLength="37.2" lengthAdjust="spacingAndGlyphs">85</text>
<text x="1919.3" y="2937.6" font-size="36.5" class="c">℃</text>
<line x1="1810.0" y1="2859.7" x2="1867.6" y2="2918.7" stroke="#000" stroke-width="2.4"/>
<text x="1347.5" y="2630.2" font-size="35.7" text-anchor="end">0.9</text>
<text x="1347.5" y="2694.7" font-size="35.7" text-anchor="end">0.8</text>
<text x="1347.5" y="2759.2" font-size="35.7" text-anchor="end">0.7</text>
<text x="1347.5" y="2823.8" font-size="35.7" text-anchor="end">0.6</text>
<text x="1347.5" y="2888.3" font-size="35.7" text-anchor="end">0.5</text>
<text x="1347.5" y="2952.8" font-size="35.7" text-anchor="end">0.4</text>
<text x="1347.5" y="3017.3" font-size="35.7" text-anchor="end">0.3</text>
<text x="1378.6" y="3068.0" font-size="35.7" text-anchor="middle">2.5</text>
<text x="1515.2" y="3068.0" font-size="35.7" text-anchor="middle">4.0</text>
<text x="1651.8" y="3068.0" font-size="35.7" text-anchor="middle">5.5</text>
<text x="1788.5" y="3068.0" font-size="35.7" text-anchor="middle">7.0</text>
<text x="1925.1" y="3068.0" font-size="35.7" text-anchor="middle">8.5</text>
<text x="2061.7" y="3068.0" font-size="35.7" text-anchor="middle">10.0</text>
<text x="1675.8" y="3113.2" font-size="41.6" textLength="110.2" lengthAdjust="spacingAndGlyphs">V<tspan font-size="28.3" dy="5.6">IN</tspan><tspan dy="-5.6"> (V)</tspan></text>
<text transform="translate(1273.3,2869.8) rotate(-90)" font-size="41.6" textLength="58.9" lengthAdjust="spacingAndGlyphs">V<tspan font-size="30" dy="5.5">SL</tspan></text>
<text transform="translate(1273.3,2800.3) rotate(-90)" font-size="41.6" textLength="50.1" lengthAdjust="spacingAndGlyphs">(V)</text>
<text x="1209.7" y="2513.6" font-size="41.2" font-weight="bold" textLength="450.5" lengthAdjust="spacingAndGlyphs">(8) V<tspan font-size="25" dy="5.7">SL</tspan><tspan dy="-5.7" font-size="1">​</tspan><tspan class="d">－</tspan>V<tspan font-size="25" dy="5.7">IN</tspan><tspan dy="-5.7" font-size="1">​</tspan> S-8540/8541</text>
<text x="197.5" y="3213" font-size="41.2" textLength="44.5" lengthAdjust="spacingAndGlyphs">22</text>
<text x="1031" y="3220.6" font-size="38" class="k3" textLength="316.8" lengthAdjust="spacing">精工电子有限公司</text>
<g id="wm">
<g filter="url(#wg)" fill="none" stroke="#8a8a8a" stroke-width="4.5" stroke-linejoin="round" opacity="0.7" class="wmg" transform="translate(1,1.5)"><text x="1695" y="3181" font-size="116" font-weight="bold">Bai</text><path d="M1957,3084 C1990,3084 2000,3118 2016,3140 C2036,3170 2010,3194 1985,3187 C1970,3183 1945,3183 1930,3187 C1902,3194 1878,3170 1897,3140 C1912,3118 1925,3084 1957,3084 Z"/><ellipse cx="1897" cy="3084" rx="16" ry="23" transform="rotate(-18 1897 3084)"/><ellipse cx="1936" cy="3041" rx="18" ry="26" transform="rotate(-6 1936 3041)"/><ellipse cx="1981" cy="3046" rx="18" ry="26" transform="rotate(8 1981 3046)"/><ellipse cx="2017" cy="3088" rx="16" ry="23" transform="rotate(20 2017 3088)"/><text x="2042" y="3173.5" font-size="90" class="k" textLength="184" lengthAdjust="spacingAndGlyphs">经验</text><text x="1697" y="3254" font-size="61" font-weight="bold" textLength="536" lengthAdjust="spacingAndGlyphs">jingyan.baidu.com</text></g>
<g fill="#fff" fill-opacity="0.68" class="wmw"><text x="1695" y="3181" font-size="116" font-weight="bold">Bai</text><path d="M1957,3084 C1990,3084 2000,3118 2016,3140 C2036,3170 2010,3194 1985,3187 C1970,3183 1945,3183 1930,3187 C1902,3194 1878,3170 1897,3140 C1912,3118 1925,3084 1957,3084 Z"/><ellipse cx="1897" cy="3084" rx="16" ry="23" transform="rotate(-18 1897 3084)"/><ellipse cx="1936" cy="3041" rx="18" ry="26" transform="rotate(-6 1936 3041)"/><ellipse cx="1981" cy="3046" rx="18" ry="26" transform="rotate(8 1981 3046)"/><ellipse cx="2017" cy="3088" rx="16" ry="23" transform="rotate(20 2017 3088)"/><text x="2042" y="3173.5" font-size="90" class="k" textLength="184" lengthAdjust="spacingAndGlyphs">经验</text><text x="1697" y="3254" font-size="61" font-weight="bold" textLength="536" lengthAdjust="spacingAndGlyphs">jingyan.baidu.com</text></g>
<text x="1911" y="3165" font-size="66" font-weight="bold" fill="#bbb" fill-opacity="0.85" class="wmd" textLength="88" lengthAdjust="spacingAndGlyphs">du</text>
</g>
</svg>
</body></html>
